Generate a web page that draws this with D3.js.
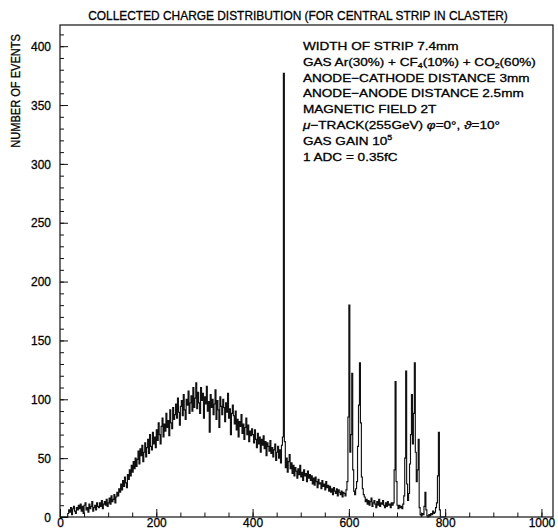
<!DOCTYPE html>
<html><head><meta charset="utf-8">
<script src="https://cdn.jsdelivr.net/npm/d3@7/dist/d3.min.js"></script>
<style>
body{margin:0;background:#fff}
svg{display:block}
text{font-family:"Liberation Sans",Arial,Helvetica,sans-serif;fill:#000;stroke:#000;stroke-width:0.3}
</style>
</head><body>
<svg id="c" width="558" height="529"></svg>
<script>
// ---------- data ----------
const binWidth = 2;          // ADC channels per bin
const counts = [
  // 0-40
  0,0,0,0,0,0,0,0,3,6, 4,8,2,7,9,5,3,8,6,10,
  // 40-80
  7,11,5,9,3,10,12,6,8,4, 11,7,9,13,5,8,10,6,12,9,
  // 80-120
  8,12,9,14,7,11,13,10,15,9, 12,16,11,18,13,15,19,12,17,21,
  // 120-160
  18,24,21,28,23,31,26,34,29,25, 36,32,40,35,44,38,47,41,50,43,
  // 160-200
  49,56,45,58,52,61,47,55,63,51, 59,66,54,70,60,57,72,62,68,59,
  // 200-240
  74,65,80,70,62,77,84,68,79,73, 88,76,82,69,91,80,75,93,83,87,
  // 240-280
  96,84,101,89,78,94,99,86,104,91, 83,100,95,107,88,97,103,90,110,93,
  // 280-320
  101,114,92,106,97,88,110,99,105,84, 102,96,111,90,98,72,104,93,100,87,
  // 320-360
  96,108,83,99,91,76,102,94,87,100, 93,81,97,89,105,84,92,70,88,95,
  // 360-400
  86,79,90,74,83,68,81,77,87,71, 79,66,76,84,70,78,64,73,69,75,
  // 400-440
  70,63,74,66,59,71,62,68,55,66, 61,69,58,64,52,63,60,56,65,54,
  // 440-464
  59,51,57,62,48,55,60,50,57,46, 61,68,
  // 464-468
  377,64,
  // 468-480
  42,50,38,47,53,41,
  // 480-520
  46,37,44,35,42,39,33,41,36,44, 34,38,31,40,35,37,30,39,33,36,
  // 520-560
  31,35,28,33,27,34,30,25,32,28, 29,24,31,26,28,23,30,25,27,22,
  // 560-596
  26,21,24,19,25,22,20,24,18,23, 21,19,22,17,21,20,18,23,
  // 596-632
  30,85,180,55,70,122,40,22,19,24, 30,60,95,131,80,34,24,19,
  // 632-692
  17,13,15,11,14,10,13,16,9,12, 14,11,8,13,10,15,9,12,11,14, 10,8,12,9,13,10,11,8,12,10,
  // 692-790
  12,40,115,30,10,7,10,8,9,7, 11,18,50,124,28,14,20,45,70,104,
  62,88,131,55,30,40,66,8,2,1, 3,2,9,21,6,1,0,2,1,3,
  2,5,3,4,8,12,35,72,6,
  // 790-800
  0,0,0,0,0
];
const xDomain = [0, 1024];
const yDomain = [0, 418];
const xTickLabels = [0, 200, 400, 600, 800, 1000];
const xMinorTicks = d3.range(0, 1001, 50);
const yTickLabels = [0, 50, 100, 150, 200, 250, 300, 350, 400];
const yMinorTicks = d3.range(0, 411, 10);
const titleText = "COLLECTED CHARGE DISTRIBUTION (FOR CENTRAL STRIP IN CLASTER)";
const yAxisTitle = "NUMBER OF EVENTS";
const infoLines = [
  [["WIDTH OF STRIP 7.4mm"]],
  [["GAS Ar(30%) + CF"],["4","sub"],["(10%) + CO"],["2","sub"],["(60%)"]],
  [["ANODE\u2212CATHODE DISTANCE 3mm"]],
  [["ANODE\u2212ANODE DISTANCE 2.5mm"]],
  [["MAGNETIC FIELD 2T"]],
  [["\u03BC","it"],["\u2212TRACK(255GeV) "],["\u03C6","it"],["=0\u00B0, "],["\u03D1","it"],["=10\u00B0"]],
  [["GAS GAIN 10"],["5","sup"]],
  [["1 ADC = 0.35fC"]]
];

// ---------- layout ----------
const svg = d3.select("#c");
const L = 60, R = 553, T = 25, B = 517;
const x = d3.scaleLinear().domain(xDomain).range([L, R]);
const y = d3.scaleLinear().domain(yDomain).range([B, T]);

function scaleX(sel, f){
  sel.each(function(){
    const ax = +this.getAttribute("x") || 0, ay = +this.getAttribute("y") || 0;
    d3.select(this).attr("transform", `translate(${ax},${ay}) scale(${f},1) translate(${-ax},${-ay})`);
  });
}

// histogram outline
const pts = counts.map((c, i) => [i * binWidth, c]);
pts.push([counts.length * binWidth, 0]);
const line = d3.line().x(d => x(d[0])).y(d => y(d[1])).curve(d3.curveStepAfter);
svg.append("path").attr("d", line(pts))
  .attr("fill", "none").attr("stroke", "#111").attr("stroke-width", 1.15);

// ticks
const gxm = svg.append("g").attr("transform", `translate(0,${B})`)
  .call(d3.axisBottom(x).tickValues(xMinorTicks).tickSize(-4.5).tickFormat(""));
const gym = svg.append("g").attr("transform", `translate(${L},0)`)
  .call(d3.axisLeft(y).tickValues(yMinorTicks).tickSize(-4).tickFormat(""));
const gx = svg.append("g").attr("transform", `translate(0,${B})`)
  .call(d3.axisBottom(x).tickValues(xTickLabels).tickSize(-8).tickPadding(1).tickFormat(d3.format("d")));
const gy = svg.append("g").attr("transform", `translate(${L},0)`)
  .call(d3.axisLeft(y).tickValues(yTickLabels).tickSize(-8).tickPadding(9).tickFormat(d3.format("d")));
[gxm, gym, gx, gy].forEach(g => {
  g.select(".domain").remove();
  g.selectAll("line").attr("stroke", "#111").attr("stroke-width", 1);
  g.selectAll("text").attr("font-size", 13).attr("fill", "#000")
    .style("font-family", '"Liberation Sans",Arial,sans-serif');
});
scaleX(gx.selectAll("text"), 0.92);
scaleX(gy.selectAll("text"), 0.92);

// frame
svg.append("rect").attr("x", L).attr("y", T).attr("width", R - L).attr("height", B - T)
  .attr("fill", "none").attr("stroke", "#111").attr("stroke-width", 1.2);

// title
const tt = svg.append("text").attr("x", 298).attr("y", 20).attr("text-anchor", "middle")
  .attr("font-size", 12.5).text(titleText);
scaleX(tt, 420 / tt.node().getComputedTextLength());

// y axis title
const yt = svg.append("text").attr("text-anchor", "end").attr("font-size", 12.5).text(yAxisTitle);
yt.attr("transform", `translate(19.5,34) rotate(-90) scale(${114 / yt.node().getComputedTextLength()},1)`);

// info lines
const infoTexts = infoLines.map((segs, i) => {
  const t = svg.append("text").attr("x", 303).attr("y", 50 + i * 15.8).attr("font-size", 11.5);
  let shift = 0;
  segs.forEach(([s, st]) => {
    const ts = t.append("tspan").text(s);
    let target = 0;
    if (st === "sub") { ts.attr("font-size", 7.5); target = 2.5; }
    if (st === "sup") { ts.attr("font-size", 7.5); target = -5; }
    if (st === "it") ts.attr("font-style", "italic");
    if (target !== shift) { ts.attr("dy", target - shift); shift = target; }
  });
  return t;
});
const f = 233 / infoTexts[1].node().getComputedTextLength();
infoTexts.forEach(t => scaleX(t, f));
</script>
</body></html>
